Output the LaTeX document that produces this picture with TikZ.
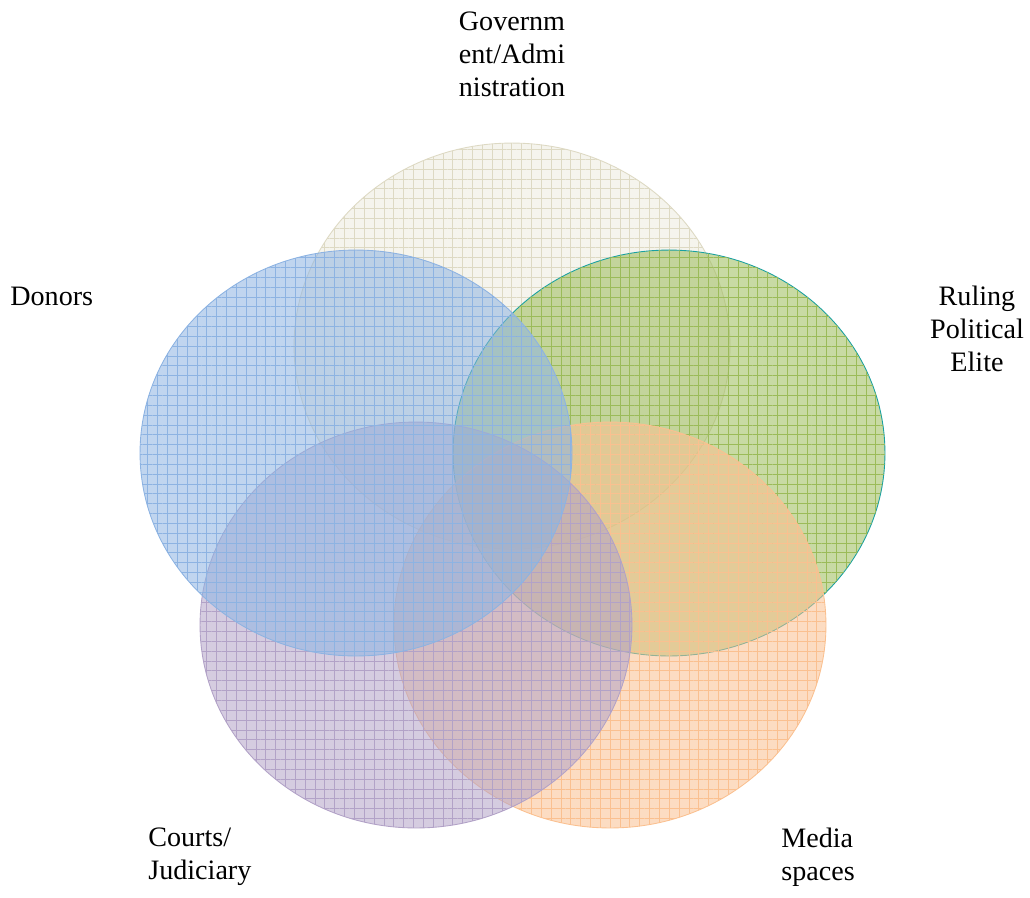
\documentclass[tikz,border=0pt]{standalone}
\usepackage{fontspec}
\setmainfont{Liberation Serif}
\usetikzlibrary{shapes.geometric,patterns.meta}

\definecolor{govfill}{RGB}{221,217,195}
\definecolor{donorfill}{RGB}{141,179,226}
\definecolor{elitefill}{RGB}{155,187,89}
\definecolor{eliteline}{RGB}{26,160,160}
\definecolor{courtfill}{RGB}{178,162,199}
\definecolor{mediafill}{RGB}{250,192,144}

\begin{document}
\begin{tikzpicture}[x=0.02cm,y=-0.02cm]
\tikzset{
  vennset/.style={ellipse,inner sep=0pt,minimum width=8.64cm,minimum height=8.12cm,
    draw=#1,line width=0.5pt,fill=#1,fill opacity=0.55,
    postaction={pattern={Lines[distance=5.6pt,angle=0,line width=0.25pt]},pattern color=#1},
    postaction={pattern={Lines[distance=5.6pt,angle=90,line width=0.25pt]},pattern color=#1}},
  setlabel/.style={inner sep=0pt,font=\fontsize{16}{18.7}\selectfont}
}
\useasboundingbox (0,0) rectangle (1030,897);
% the five sets, back to front
\node[vennset=govfill,minimum width=8.72cm,fill opacity=0.3] (s_gov) at (512,346) {};
\node[vennset=elitefill,draw=eliteline,draw opacity=1] (s_elite) at (669,453) {};
\node[vennset=mediafill] (s_media) at (610,625) {};
\node[vennset=courtfill] (s_court) at (416,625) {};
\node[vennset=donorfill] (s_donor) at (356,453) {};
% labels
\node[setlabel,align=center] (l_gov) at (512,54) {Governm\\ent/Admi\\nistration};
\node[setlabel,anchor=west] (l_donor) at (10,296) {Donors};
\node[setlabel,align=center] (l_elite) at (977,329) {Ruling\\Political\\Elite};
\node[setlabel,anchor=west,align=left] (l_court) at (148,857) {Courts/\\Judiciary};
\node[setlabel,anchor=west,align=left] (l_media) at (781,857) {Media\\spaces};
\end{tikzpicture}
\end{document}
